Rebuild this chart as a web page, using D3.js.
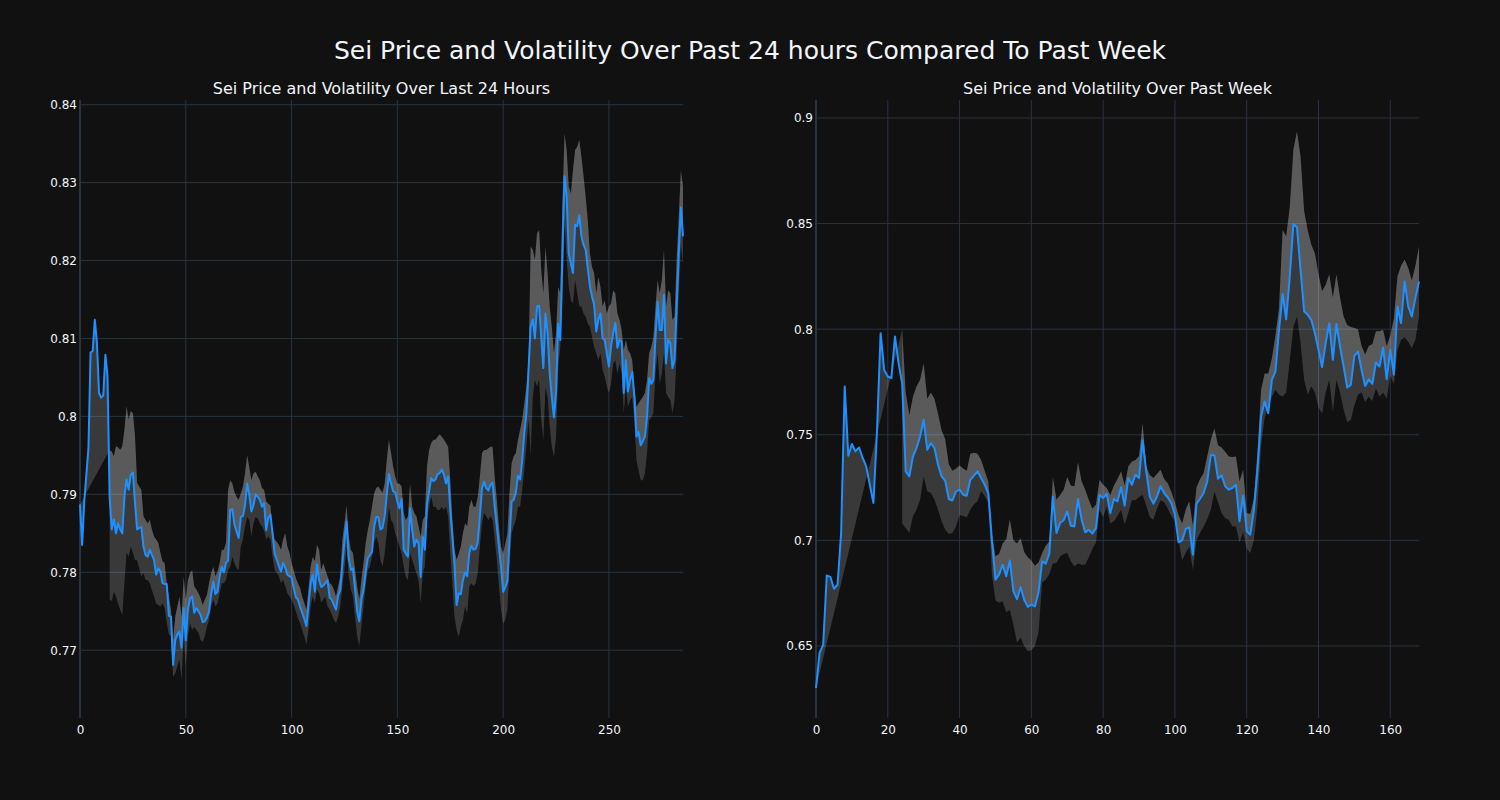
<!DOCTYPE html>
<html><head><meta charset="utf-8">
<script src="https://cdn.jsdelivr.net/npm/d3@7"></script>
<style>body{margin:0;background:#111111;}svg{display:block;}</style>
</head><body>
<svg id="chart" width="1500" height="800"></svg>
<script>
// ---------- DATA ----------
const mainTitle = "Sei Price and Volatility Over Past 24 hours Compared To Past Week";
const title24 = "Sei Price and Volatility Over Last 24 Hours";
const titleWeek = "Sei Price and Volatility Over Past Week";

const price24 = [0.7887,0.7835,0.7890,0.7925,0.7960,0.8082,0.8084,0.8124,0.8094,0.8030,0.8024,0.8027,0.8079,0.8052,0.7897,0.7855,0.7868,0.7850,0.7863,0.7855,
0.7850,0.7897,0.7919,0.7906,0.7925,0.7928,0.7889,0.7855,0.7857,0.7858,0.7833,0.7822,0.7820,0.7829,0.7822,0.7816,0.7797,0.7805,0.7801,0.7786,
0.7785,0.7785,0.7744,0.7743,0.7681,0.7713,0.7720,0.7724,0.7703,0.7754,0.7713,0.7752,0.7766,0.7769,0.7748,0.7754,0.7750,0.7745,0.7736,0.7737,
0.7742,0.7750,0.7772,0.7788,0.7772,0.7775,0.7795,0.7807,0.7800,0.7812,0.7815,0.7880,0.7881,0.7861,0.7852,0.7844,0.7871,0.7872,0.7886,0.7914,
0.7900,0.7878,0.7886,0.7900,0.7897,0.7893,0.7884,0.7889,0.7854,0.7870,0.7874,0.7850,0.7824,0.7816,0.7808,0.7801,0.7812,0.7806,0.7797,0.7795,
0.7793,0.7780,0.7768,0.7765,0.7756,0.7748,0.7740,0.7731,0.7758,0.7785,0.7797,0.7775,0.7810,0.7790,0.7781,0.7783,0.7786,0.7790,0.7767,0.7765,
0.7758,0.7752,0.7770,0.7777,0.7810,0.7840,0.7865,0.7818,0.7803,0.7805,0.7778,0.7750,0.7737,0.7765,0.7778,0.7800,0.7818,0.7822,0.7826,0.7858,
0.7871,0.7871,0.7855,0.7857,0.7872,0.7900,0.7926,0.7914,0.7904,0.7902,0.7891,0.7882,0.7894,0.7829,0.7824,0.7820,0.7882,0.7855,0.7833,0.7842,
0.7837,0.7794,0.7846,0.7829,0.7887,0.7904,0.7921,0.7917,0.7919,0.7926,0.7927,0.7932,0.7925,0.7914,0.7923,0.7880,0.7845,0.7810,0.7758,0.7773,
0.7772,0.7790,0.7800,0.7795,0.7825,0.7834,0.7829,0.7830,0.7838,0.7872,0.7908,0.7916,0.7908,0.7905,0.7912,0.7915,0.7884,0.7859,0.7833,0.7807,
0.7775,0.7781,0.7788,0.7842,0.7891,0.7893,0.7902,0.7924,0.7919,0.7944,0.7979,0.8004,0.8060,0.8115,0.8124,0.8100,0.8141,0.8142,0.8102,0.8062,
0.8132,0.8107,0.8055,0.8025,0.7999,0.8030,0.8119,0.8098,0.8205,0.8308,0.8282,0.8209,0.8196,0.8184,0.8246,0.8244,0.8258,0.8231,0.8220,0.8214,
0.8190,0.8167,0.8154,0.8143,0.8109,0.8124,0.8132,0.8100,0.8098,0.8081,0.8064,0.8090,0.8107,0.8120,0.8088,0.8098,0.8096,0.8030,0.8072,0.8032,
0.8047,0.8057,0.8025,0.7974,0.7980,0.7963,0.7968,0.7974,0.7999,0.8049,0.8042,0.8047,0.8102,0.8147,0.8111,0.8111,0.8156,0.8068,0.8098,0.8094,
0.8062,0.8072,0.8141,0.8209,0.8268,0.8231];

const upper24 = [null,null,null,null,null,null,null,null,null,null,null,null,null,null,
0.7957,0.7955,0.7949,0.7962,0.7960,0.7957,0.7962,0.7983,0.8013,0.7996,0.8007,0.8004,0.7975,0.7915,0.7910,0.7906,
0.7872,0.7867,0.7863,0.7867,0.7855,0.7846,0.7842,0.7838,0.7825,0.7814,0.7812,0.7786,0.7769,0.7752,0.7713,0.7743,
0.7756,0.7769,0.7743,0.7795,0.7765,0.7790,0.7799,0.7803,0.7782,0.7778,0.7773,0.7767,0.7758,0.7765,0.7771,0.7786,
0.7799,0.7807,0.7795,0.7801,0.7812,0.7829,0.7829,0.7838,0.7906,0.7918,0.7914,0.7903,0.7897,0.7893,0.7901,0.7910,
0.7927,0.7950,0.7935,0.7918,0.7927,0.7929,0.7923,0.7918,0.7908,0.7906,0.7891,0.7888,0.7886,0.7854,0.7842,0.7839,
0.7835,0.7829,0.7842,0.7850,0.7833,0.7825,0.7812,0.7803,0.7793,0.7786,0.7780,0.7769,0.7761,0.7752,0.7778,0.7807,
0.7820,0.7814,0.7835,0.7829,0.7803,0.7812,0.7803,0.7795,0.7786,0.7784,0.7778,0.7769,0.7782,0.7795,0.7842,0.7863,
0.7886,0.7846,0.7829,0.7825,0.7803,0.7782,0.7765,0.7790,0.7812,0.7837,0.7854,0.7867,0.7884,0.7901,0.7908,0.7910,
0.7906,0.7902,0.7914,0.7944,0.7970,0.7953,0.7936,0.7923,0.7914,0.7914,0.7910,0.7876,0.7867,0.7872,0.7914,0.7884,
0.7876,0.7872,0.7859,0.7846,0.7867,0.7872,0.7936,0.7957,0.7966,0.7970,0.7970,0.7974,0.7977,0.7974,0.7970,0.7966,
0.7961,0.7919,0.7867,0.7829,0.7816,0.7824,0.7833,0.7850,0.7863,0.7859,0.7884,0.7893,0.7884,0.7884,0.7897,0.7923,
0.7953,0.7957,0.7957,0.7959,0.7961,0.7961,0.7923,0.7893,0.7859,0.7833,0.7824,0.7837,0.7850,0.7902,0.7940,0.7949,
0.7953,0.7970,0.7983,0.7996,0.8017,0.8039,0.8069,0.8218,0.8214,0.8201,0.8235,0.8239,0.8188,0.8158,0.8218,0.8184,
0.8141,0.8115,0.8081,0.8107,0.8166,0.8158,0.8273,0.8363,0.8342,0.8295,0.8286,0.8316,0.8342,0.8346,0.8355,0.8333,
0.8308,0.8282,0.8252,0.8209,0.8192,0.8184,0.8158,0.8179,0.8166,0.8141,0.8149,0.8132,0.8141,0.8145,0.8162,0.8158,
0.8132,0.8124,0.8111,0.8085,0.8098,0.8085,0.8081,0.8072,0.8038,0.8012,0.8017,0.8021,0.8025,0.8030,0.8047,0.8081,
0.8089,0.8102,0.8141,0.8175,0.8158,0.8175,0.8214,0.8141,0.8162,0.8158,0.8124,0.8128,0.8201,0.8256,0.8316,0.8295];

const lower24 = [null,null,null,null,null,null,null,null,null,null,null,null,null,null,
0.7765,0.7763,0.7775,0.7769,0.7760,0.7752,0.7745,0.7786,0.7825,0.7820,0.7833,0.7825,0.7816,0.7815,0.7805,0.7795,
0.7799,0.7790,0.7790,0.7786,0.7777,0.7769,0.7760,0.7758,0.7756,0.7760,0.7754,0.7735,0.7720,0.7718,0.7666,0.7670,
0.7679,0.7688,0.7662,0.7718,0.7679,0.7718,0.7735,0.7726,0.7730,0.7726,0.7722,0.7713,0.7711,0.7718,0.7730,0.7739,
0.7756,0.7765,0.7756,0.7760,0.7773,0.7786,0.7786,0.7790,0.7803,0.7807,0.7820,0.7812,0.7805,0.7803,0.7833,0.7842,
0.7859,0.7871,0.7867,0.7846,0.7863,0.7871,0.7869,0.7863,0.7859,0.7854,0.7842,0.7846,0.7842,0.7820,0.7803,0.7799,
0.7795,0.7786,0.7790,0.7782,0.7773,0.7769,0.7765,0.7758,0.7750,0.7741,0.7735,0.7726,0.7718,0.7707,0.7726,0.7756,
0.7769,0.7761,0.7778,0.7773,0.7761,0.7765,0.7769,0.7756,0.7752,0.7746,0.7739,0.7735,0.7743,0.7756,0.7782,0.7803,
0.7833,0.7795,0.7778,0.7769,0.7743,0.7718,0.7705,0.7731,0.7756,0.7782,0.7803,0.7807,0.7820,0.7837,0.7846,0.7837,
0.7816,0.7807,0.7824,0.7850,0.7884,0.7867,0.7863,0.7850,0.7842,0.7833,0.7824,0.7807,0.7794,0.7790,0.7824,0.7816,
0.7807,0.7799,0.7790,0.7760,0.7799,0.7807,0.7867,0.7884,0.7897,0.7884,0.7884,0.7880,0.7880,0.7884,0.7880,0.7884,
0.7872,0.7824,0.7786,0.7743,0.7726,0.7717,0.7730,0.7739,0.7756,0.7747,0.7782,0.7786,0.7782,0.7786,0.7799,0.7833,
0.7863,0.7876,0.7872,0.7867,0.7872,0.7867,0.7842,0.7816,0.7782,0.7752,0.7734,0.7739,0.7752,0.7807,0.7850,0.7859,
0.7867,0.7884,0.7884,0.7906,0.7932,0.7962,0.7996,0.7950,0.8025,0.8047,0.8038,0.8047,0.7995,0.7970,0.8038,0.8025,
0.7987,0.7961,0.7948,0.7974,0.8060,0.8089,0.8149,0.8252,0.8201,0.8166,0.8149,0.8145,0.8175,0.8158,0.8141,0.8141,
0.8132,0.8128,0.8119,0.8115,0.8102,0.8089,0.8081,0.8072,0.8081,0.8060,0.8051,0.8038,0.8030,0.8042,0.8068,0.8072,
0.8055,0.8068,0.8055,0.8004,0.8038,0.8012,0.8021,0.8025,0.7995,0.7944,0.7931,0.7918,0.7918,0.7927,0.7953,0.7995,
0.7999,0.8004,0.8055,0.8081,0.8042,0.8055,0.8081,0.8030,0.8025,0.8021,0.8004,0.8021,0.8081,0.8158,0.8218,0.8196];

const priceWeek = [0.6301,0.6467,0.6506,0.6834,0.6827,0.6771,0.6790,0.7035,0.7728,0.7401,0.7456,0.7421,0.7440,0.7390,0.7350,0.7263,0.7177,0.7520,0.7981,0.7807,
0.7776,0.7768,0.7965,0.7839,0.7744,0.7327,0.7303,0.7397,0.7437,0.7492,0.7571,0.7429,0.7461,0.7437,0.7358,0.7303,0.7282,0.7196,0.7189,0.7232,
0.7240,0.7216,0.7211,0.7287,0.7306,0.7327,0.7295,0.7263,0.7224,0.7003,0.6814,0.6838,0.6885,0.6830,0.6905,0.6759,0.6722,0.6778,0.6719,0.6685,
0.6696,0.6688,0.6754,0.6901,0.6890,0.6937,0.7208,0.7035,0.7082,0.7095,0.7137,0.7069,0.7066,0.7196,0.7098,0.7038,0.7050,0.7032,0.7058,0.7216,
0.7200,0.7221,0.7129,0.7196,0.7185,0.7252,0.7164,0.7295,0.7263,0.7311,0.7295,0.7473,0.7326,0.7208,0.7174,0.7208,0.7256,0.7224,0.7203,0.7177,
0.7122,0.6991,0.7000,0.7054,0.7062,0.6932,0.7174,0.7197,0.7224,0.7279,0.7405,0.7402,0.7292,0.7308,0.7256,0.7240,0.7248,0.7263,0.7090,0.7213,
0.7043,0.7027,0.7145,0.7334,0.7587,0.7658,0.7602,0.7760,0.7799,0.7997,0.8167,0.8047,0.8250,0.8498,0.8483,0.8281,0.8084,0.8068,0.8044,0.7981,
0.7902,0.7820,0.7934,0.8028,0.7855,0.8025,0.7918,0.7823,0.7724,0.7736,0.7874,0.7894,0.7807,0.7731,0.7763,0.7741,0.7842,0.7823,0.7913,0.7763,
0.7902,0.7784,0.8107,0.8028,0.8226,0.8107,0.8060,0.8147,0.8226];

const upperWeek = [null,null,null,null,null,null,null,null,null,null,null,null,null,null,null,null,null,null,null,null,null,null,null,null,
0.8000,0.7700,0.7594,0.7680,0.7728,0.7760,0.7839,0.7670,0.7700,0.7670,0.7600,0.7520,0.7480,0.7360,0.7330,0.7340,
0.7355,0.7340,0.7330,0.7410,0.7415,0.7410,0.7380,0.7330,0.7280,0.7030,0.6925,0.6935,0.6985,0.7005,0.7100,0.7000,
0.6985,0.7010,0.6945,0.6920,0.6905,0.6880,0.6895,0.6940,0.6975,0.6995,0.7300,0.7192,0.7215,0.7240,0.7300,0.7260,
0.7256,0.7370,0.7280,0.7240,0.7192,0.7150,0.7170,0.7287,0.7263,0.7248,0.7215,0.7260,0.7290,0.7327,0.7260,0.7350,
0.7374,0.7380,0.7400,0.7555,0.7350,0.7310,0.7295,0.7315,0.7334,0.7290,0.7271,0.7230,0.7180,0.7120,0.7080,0.7145,
0.7185,0.7070,0.7250,0.7290,0.7319,0.7400,0.7476,0.7530,0.7450,0.7440,0.7420,0.7397,0.7395,0.7397,0.7280,0.7334,
0.7130,0.7125,0.7200,0.7420,0.7712,0.7790,0.7790,0.7860,0.7970,0.8100,0.8470,0.8440,0.8580,0.8850,0.8937,0.8818,
0.8560,0.8470,0.8400,0.8360,0.8260,0.8180,0.8210,0.8260,0.8150,0.8260,0.8150,0.8060,0.8020,0.8010,0.8005,0.8000,
0.7920,0.7880,0.7920,0.7930,0.7990,0.7990,0.7997,0.7920,0.7970,0.8050,0.8250,0.8300,0.8330,0.8290,0.8230,0.8300,0.8392];

const lowerWeek = [null,null,null,null,null,null,null,null,null,null,null,null,null,null,null,null,null,null,null,null,null,null,null,null,
0.7080,0.7058,0.7035,0.7114,0.7145,0.7192,0.7303,0.7232,0.7224,0.7192,0.7145,0.7090,0.7050,0.7030,0.7035,0.7066,
0.7120,0.7115,0.7110,0.7145,0.7170,0.7185,0.7232,0.7210,0.7180,0.6840,0.6715,0.6705,0.6712,0.6660,0.6670,0.6600,
0.6515,0.6540,0.6500,0.6475,0.6480,0.6500,0.6565,0.6800,0.6815,0.6840,0.6890,0.6893,0.6924,0.6935,0.6940,0.6900,
0.6877,0.6890,0.6885,0.6885,0.6920,0.6960,0.6990,0.7145,0.7110,0.7160,0.7080,0.7090,0.7115,0.7145,0.7075,0.7130,
0.7190,0.7190,0.7205,0.7215,0.7165,0.7110,0.7098,0.7150,0.7190,0.7180,0.7150,0.7114,0.7090,0.7000,0.6905,0.6940,
0.6970,0.6860,0.7000,0.7035,0.7066,0.7100,0.7145,0.7230,0.7180,0.7130,0.7105,0.7098,0.7066,0.7066,0.6990,0.7040,
0.6960,0.6940,0.7000,0.7160,0.7450,0.7580,0.7630,0.7680,0.7712,0.7690,0.7681,0.7700,0.7850,0.8010,0.8060,0.7934,
0.7760,0.7690,0.7730,0.7700,0.7630,0.7600,0.7700,0.7760,0.7610,0.7760,0.7700,0.7620,0.7560,0.7570,0.7640,0.7690,
0.7700,0.7655,0.7680,0.7660,0.7720,0.7680,0.7700,0.7670,0.7780,0.7740,0.7900,0.7950,0.7960,0.7940,0.7910,0.7950,0.8060];

const yTicks24 = [0.77,0.78,0.79,0.80,0.81,0.82,0.83,0.84];
const xTicks24 = [0,50,100,150,200,250];
const yTicksWeek = [0.65,0.70,0.75,0.80,0.85,0.90];
const xTicksWeek = [0,20,40,60,80,100,120,140,160];

// ---------- DRAW ----------
const svg = d3.select("#chart");
svg.append("rect").attr("width",1500).attr("height",800).attr("fill","#111111");
const FONT = "'DejaVu Sans', sans-serif";
const TXT = "#f2f5fa";
const GRID = "#283442";

svg.append("text").attr("x",750).attr("y",59).attr("text-anchor","middle")
  .attr("font-family",FONT).attr("font-size",25).attr("fill",TXT).text(mainTitle);

function panel(opts){
  const {price, upper, lower, xDomain, yDomain, xRange, yRange, xTicks, yTicks, title} = opts;
  const x = d3.scaleLinear().domain(xDomain).range(xRange);
  const y = d3.scaleLinear().domain(yDomain).range(yRange);
  const g = svg.append("g");

  // grid
  g.append("g").selectAll("line").data(yTicks).join("line")
    .attr("x1",xRange[0]).attr("x2",xRange[1]).attr("y1",d=>y(d)).attr("y2",d=>y(d))
    .attr("stroke",GRID).attr("stroke-width",1);
  g.append("g").selectAll("line").data(xTicks).join("line")
    .attr("x1",d=>x(d)).attr("x2",d=>x(d)).attr("y1",yRange[0]).attr("y2",yRange[1])
    .attr("stroke",GRID).attr("stroke-width",d=>d===0?2:1);

  // band (full band between lower and upper)
  const idx = d3.range(price.length);
  const band = d3.area().defined(i=>upper[i]!=null && lower[i]!=null)
    .x(i=>x(i)).y0(i=>y(lower[i])).y1(i=>y(upper[i]));
  g.append("path").attr("d",band(idx)).attr("fill","rgba(255,255,255,0.17)");

  // fill from price to upper (tonexty-like polygon)
  const pts = idx.map(i=>[x(i),y(price[i])]);
  const up = idx.filter(i=>upper[i]!=null).reverse().map(i=>[x(i),y(upper[i])]);
  g.append("path").attr("d",d3.line()(pts.concat(up))+"Z").attr("fill","rgba(255,255,255,0.17)");

  // price line
  g.append("path").attr("d",d3.line().x(i=>x(i)).y(i=>y(price[i]))(idx))
    .attr("fill","none").attr("stroke","#1e90ff").attr("stroke-width",2).attr("stroke-linejoin","round");

  // axes labels
  const yAxis = d3.axisLeft(y).tickValues(yTicks).tickSize(0).tickPadding(3).tickFormat(d3.format("~g"));
  const ya = g.append("g").attr("transform",`translate(${xRange[0]},0)`).call(yAxis);
  const xAxis = d3.axisBottom(x).tickValues(xTicks).tickSize(0).tickPadding(7).tickFormat(d3.format("d"));
  const xa = g.append("g").attr("transform",`translate(0,${yRange[0]})`).call(xAxis);
  [ya,xa].forEach(a=>{
    a.select(".domain").remove();
    a.selectAll("text").attr("fill",TXT).attr("font-family",FONT).attr("font-size",12);
  });

  svg.append("text").attr("x",(xRange[0]+xRange[1])/2).attr("y",94).attr("text-anchor","middle")
    .attr("font-family",FONT).attr("font-size",16).attr("fill",TXT).text(title);
}

panel({price:price24, upper:upper24, lower:lower24, xDomain:[0,285], yDomain:[0.7613,0.8406],
  xRange:[80,683], yRange:[718,100], xTicks:xTicks24, yTicks:yTicks24, title:title24});
panel({price:priceWeek, upper:upperWeek, lower:lowerWeek, xDomain:[0,168], yDomain:[0.6159,0.9085],
  xRange:[816,1419], yRange:[718,100], xTicks:xTicksWeek, yTicks:yTicksWeek, title:titleWeek});
</script>
</body></html>
